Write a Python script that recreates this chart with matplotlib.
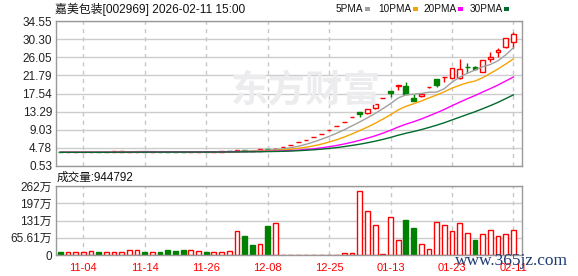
import matplotlib
matplotlib.use("Agg")
import matplotlib.pyplot as plt
from matplotlib.patches import Rectangle

plt.rcParams['font.family'] = ['Liberation Sans', 'Noto Sans CJK SC']

W, H = 578, 276

# ---- data ----
date_labels = ["11-04", "11-14", "11-26", "12-08", "12-25", "01-13", "01-23", "02-11"]
date_idx = [3, 11, 19, 27, 35, 43, 51, 59]

opens = [
    3.76, 3.74, 3.75, 3.75, 3.76, 3.78, 3.76, 3.80, 3.90, 3.87,
    3.89, 3.92, 3.87, 3.90, 3.87, 3.83, 3.80, 3.77, 3.80, 3.83,
    3.80, 3.86, 3.98, 3.99, 4.22, 4.15, 4.12, 4.50, 4.45, 5.06,
    5.57, 6.13, 6.74, 7.41, 8.15, 8.97, 9.87, 10.86, 11.95, 13.15,
    13.00, 14.10, 16.50, 18.15, 19.30, 19.30, 16.55, 16.90, 18.95, 20.87,
    21.30, 21.25, 21.10, 23.85, 23.70, 22.65, 25.56, 27.20, 28.38, 29.70]
closes = [
    3.74, 3.75, 3.76, 3.77, 3.78, 3.76, 3.78, 3.95, 3.96, 3.90,
    3.92, 3.88, 3.90, 3.87, 3.82, 3.80, 3.77, 3.80, 3.83, 3.80,
    3.85, 3.98, 3.98, 4.21, 4.15, 4.10, 4.45, 4.42, 4.60, 5.06,
    5.57, 6.13, 6.74, 7.41, 8.15, 8.97, 9.87, 10.86, 11.95, 12.70,
    13.80, 15.00, 16.50, 17.70, 19.47, 17.40, 15.85, 17.40, 19.14, 19.53,
    21.45, 23.45, 23.30, 23.75, 23.20, 25.40, 26.03, 27.75, 30.63, 31.50]
highs = [
    3.77, 3.76, 3.77, 3.78, 3.80, 3.79, 3.79, 3.97, 3.98, 3.95,
    3.94, 3.93, 3.91, 3.91, 3.88, 3.84, 3.81, 3.81, 3.84, 3.84,
    3.86, 4.00, 4.02, 4.30, 4.30, 4.18, 4.51, 4.60, 4.75, 5.06,
    5.57, 6.13, 6.74, 7.41, 8.15, 8.97, 9.87, 10.86, 11.95, 13.15,
    13.90, 15.18, 16.50, 18.15, 19.47, 20.30, 17.40, 17.50, 19.14, 20.90,
    21.45, 23.60, 25.70, 24.60, 24.06, 25.50, 27.35, 28.10, 30.63, 31.90]
lows = [
    3.73, 3.73, 3.74, 3.74, 3.75, 3.75, 3.75, 3.79, 3.88, 3.86,
    3.88, 3.87, 3.86, 3.86, 3.81, 3.79, 3.76, 3.76, 3.79, 3.79,
    3.79, 3.85, 3.95, 3.98, 4.10, 4.05, 4.10, 4.35, 4.40, 5.06,
    5.57, 6.13, 6.74, 7.41, 8.15, 8.97, 9.87, 10.86, 11.95, 12.10,
    12.66, 14.00, 16.50, 16.80, 18.40, 17.40, 15.80, 16.80, 18.90, 19.13,
    20.30, 21.20, 21.00, 22.30, 23.05, 22.50, 25.00, 26.20, 28.30, 28.30]

ma5 = [
    3.75, 3.75, 3.75, 3.75, 3.76, 3.76, 3.77, 3.81, 3.85, 3.87,
    3.91, 3.93, 3.92, 3.89, 3.88, 3.85, 3.83, 3.81, 3.80, 3.80,
    3.81, 3.85, 3.89, 3.96, 4.03, 4.08, 4.18, 4.27, 4.34, 4.53,
    4.82, 5.16, 5.62, 6.18, 6.80, 7.48, 8.23, 9.05, 9.96, 10.87,
    11.84, 12.86, 13.99, 15.14, 16.49, 17.21, 17.38, 17.56, 17.85, 17.86,
    18.67, 20.19, 21.37, 22.30, 23.03, 23.82, 24.34, 25.23, 26.60, 28.26]
ma10 = [
    3.75, 3.75, 3.75, 3.75, 3.76, 3.76, 3.76, 3.78, 3.80, 3.82,
    3.83, 3.85, 3.86, 3.87, 3.88, 3.88, 3.88, 3.86, 3.85, 3.84,
    3.83, 3.84, 3.85, 3.88, 3.92, 3.95, 4.02, 4.08, 4.15, 4.28,
    4.45, 4.67, 4.94, 5.26, 5.66, 6.15, 6.69, 7.34, 8.07, 8.84,
    9.66, 10.55, 11.52, 12.55, 13.68, 14.53, 15.12, 15.78, 16.50, 17.18,
    17.94, 18.79, 19.47, 20.07, 20.45, 21.25, 22.27, 23.30, 24.45, 25.65]
ma20 = [
    3.75, 3.75, 3.75, 3.75, 3.75, 3.75, 3.75, 3.76, 3.77, 3.78,
    3.79, 3.80, 3.81, 3.81, 3.82, 3.82, 3.82, 3.82, 3.83, 3.83,
    3.83, 3.85, 3.86, 3.88, 3.90, 3.91, 3.95, 3.98, 4.01, 4.06,
    4.14, 4.25, 4.40, 4.57, 4.79, 5.05, 5.35, 5.71, 6.11, 6.56,
    7.06, 7.61, 8.23, 8.91, 9.67, 10.34, 10.91, 11.56, 12.28, 13.01,
    13.80, 14.67, 15.50, 16.31, 17.06, 17.89, 18.69, 19.54, 20.47, 21.41]
ma30 = [
    3.75, 3.75, 3.75, 3.75, 3.75, 3.75, 3.75, 3.76, 3.77, 3.77,
    3.78, 3.78, 3.79, 3.79, 3.79, 3.80, 3.80, 3.80, 3.80, 3.80,
    3.81, 3.81, 3.82, 3.83, 3.85, 3.86, 3.88, 3.91, 3.94, 3.98,
    4.04, 4.12, 4.22, 4.34, 4.48, 4.65, 4.86, 5.09, 5.36, 5.65,
    5.98, 6.35, 6.77, 7.23, 7.75, 8.21, 8.61, 9.06, 9.57, 10.10,
    10.68, 11.33, 11.98, 12.63, 13.26, 13.97, 14.69, 15.47, 16.34, 17.22]

# volume in 万 shares, and whether the bar is drawn as an up (red) day
volumes = [
    11, 10, 10, 10, 15, 11, 10, 10, 10, 19,
    19, 11, 10, 11, 19, 15, 19, 19, 15, 11,
    10, 10, 15, 91, 72, 38, 42, 111, 121, 1,
    1, 1, 1, 1, 1, 1, 1, 7, 7, 242,
    166, 114, 2, 144, 57, 133, 103, 41, 22, 125,
    114, 91, 122, 84, 57, 80, 95, 72, 80, 94.4792]
vol_up = [
    0, 1, 1, 1, 1, 0, 1, 1, 1, 1,
    1, 0, 1, 0, 0, 0, 0, 1, 1, 0,
    1, 1, 1, 1, 0, 0, 1, 0, 1, 1,
    1, 1, 1, 1, 1, 1, 1, 1, 1, 1,
    1, 1, 1, 1, 1, 0, 0, 1, 1, 1,
    1, 1, 1, 1, 0, 1, 1, 1, 1, 1]
last_volume = 944792

price_ticks = [0.53, 4.78, 9.03, 13.29, 17.54, 21.79, 26.05, 30.30, 34.55]
vol_ticks = [0, 65.61, 131.22, 196.83, 262.44]
vol_tick_labels = ["0", "65.61万", "131万", "197万", "262万"]

ma_names = ["5PMA", "10PMA", "20PMA", "30PMA"]
ma_colors = ["#a0a0a0", "#f5a300", "#ff00ff", "#006b2d"]

RED = "#ff0000"
GREEN = "#008000"
GRID = "#cccccc"
BORDER = "#999999"


def fx(x):
    return x / W


def fy(y):
    return 1 - y / H


fig = plt.figure(figsize=(W / 100, H / 100), dpi=100)
ax = fig.add_axes([fx(55.5), fy(166), (522 - 55.5) / W, 145 / H])
axv = fig.add_axes([fx(55.5), fy(255), (522 - 55.5) / W, 69 / H])

n = len(closes)
xlim = (-0.62, 60.12)
bw = 0.62

for a, ticks in ((ax, price_ticks), (axv, vol_ticks)):
    a.set_xlim(*xlim)
    for t in ticks:
        a.axhline(t, color=GRID, lw=1, zorder=0)
    for d in date_idx:
        a.axvline(d, color="#c8c8c8", lw=1, ls=(0, (3, 3)), zorder=0)
    for s in a.spines.values():
        s.set_color(BORDER)
        s.set_linewidth(1)
    a.tick_params(length=0, labelsize=8.5, colors="#222222", pad=2.5)

# price panel
ax.set_ylim(price_ticks[0], price_ticks[-1])
ax.set_yticks(price_ticks)
ax.set_yticklabels([f"{t:.2f}" for t in price_ticks])
ax.set_xticks([])

# faint site watermark
fig.text(fx(306), fy(91), "东方财富", fontsize=27, fontweight="bold",
         color="#ececee", ha="center", va="center", zorder=0,
         family=["Noto Sans CJK SC"])

for i in range(n):
    o, c, h, l = opens[i], closes[i], highs[i], lows[i]
    prev = closes[i - 1] if i else c
    if c > o:
        col, fill = RED, "white"
    elif c < o:
        col, fill = GREEN, GREEN
    else:
        col = RED if c > prev else (GREEN if c < prev else "black")
        fill = col
    top, bot = max(o, c), min(o, c)
    ax.vlines(i, top, h, color=col, lw=1, zorder=2)
    ax.vlines(i, l, bot, color=col, lw=1, zorder=2)
    ax.add_patch(Rectangle((i - bw / 2, bot), bw, top - bot, facecolor=fill,
                           edgecolor=col, lw=1, zorder=2))

xs = list(range(n))
for vals, colr in zip([ma5, ma10, ma20, ma30], ma_colors):
    ax.plot(xs, vals, color=colr, lw=1, zorder=3)

# volume panel
axv.set_ylim(vol_ticks[0], vol_ticks[-1])
axv.set_yticks(vol_ticks)
axv.set_yticklabels(vol_tick_labels)
axv.set_xticks(date_idx)
axv.set_xticklabels(date_labels, color=RED, fontsize=8)
axv.tick_params(axis="x", pad=6)
for i in range(n):
    if vol_up[i]:
        axv.bar(i, volumes[i], width=bw, facecolor="white", edgecolor=RED, lw=1, zorder=2)
    else:
        axv.bar(i, volumes[i], width=bw, facecolor=GREEN, edgecolor=GREEN, lw=1, zorder=2)

# header texts
fig.text(fx(55), fy(9), "嘉美包装[002969] 2026-02-11 15:00", fontsize=8.6,
         ha="left", va="center", color="#111111")
fig.text(fx(57), fy(177.5), f"成交量:{last_volume}", fontsize=8.4,
         ha="left", va="center", color="#111111")

sq = [365, 413, 458, 504]
for name, colr, s0 in zip(ma_names, ma_colors, sq):
    fig.text(fx(s0 - 1.5), fy(9), name, fontsize=7.2, ha="right", va="center",
             color="#111111")
    fig.patches.append(Rectangle((fx(s0), fy(10.5)), 5 / W, 3 / H, transform=fig.transFigure,
                                 facecolor=colr, edgecolor="none"))

fig.text(fx(455), fy(261), "www.365jz.com", fontsize=12.5, ha="left", va="center",
         color="#1f3c73", family=["Liberation Serif"])

fig.savefig("out.png", dpi=100)
